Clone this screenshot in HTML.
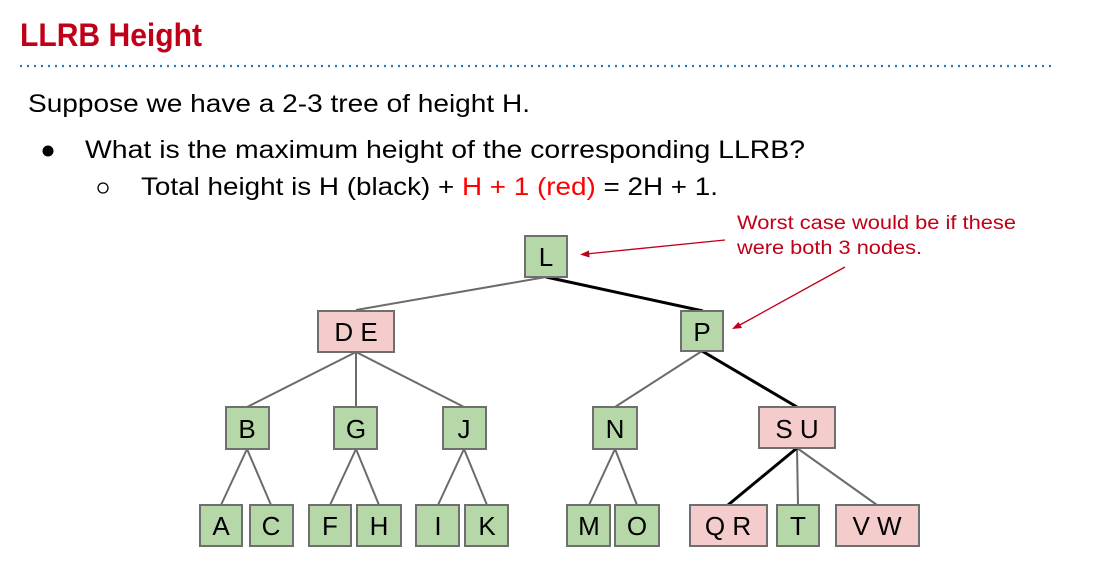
<!DOCTYPE html>
<html><head><meta charset="utf-8"><style>
html,body{margin:0;padding:0;background:#fff;}
svg{display:block;}
text{font-family:"Liberation Sans",Arial,sans-serif;}
</style></head><body>
<svg width="1095" height="580" viewBox="0 0 1095 580" xmlns="http://www.w3.org/2000/svg">
<text x="20" y="46" font-size="32" font-weight="bold" fill="#c00018" textLength="182" lengthAdjust="spacingAndGlyphs">LLRB Height</text>
<line x1="20" y1="66" x2="1052" y2="66" stroke="#2e75b6" stroke-width="2.2" stroke-dasharray="2 5"/>
<text x="28" y="112" font-size="25" fill="#000" textLength="502" lengthAdjust="spacingAndGlyphs">Suppose we have a 2-3 tree of height H.</text>
<circle cx="48" cy="151" r="5.5" fill="#000"/>
<text x="85" y="158" font-size="25" fill="#000" textLength="720" lengthAdjust="spacingAndGlyphs">What is the maximum height of the corresponding LLRB?</text>
<circle cx="103" cy="188" r="5" fill="none" stroke="#000" stroke-width="1.3"/>
<text x="141" y="195" font-size="25" fill="#000" textLength="577" lengthAdjust="spacingAndGlyphs">Total height is H (black) + <tspan fill="#ff0000">H + 1 (red)</tspan> = 2H + 1.</text>

<text x="737" y="229" font-size="19" fill="#c00018" textLength="279" lengthAdjust="spacingAndGlyphs">Worst case would be if these</text>
<text x="737" y="254" font-size="19" fill="#c00018" textLength="185" lengthAdjust="spacingAndGlyphs">were both 3 nodes.</text>
<g stroke="#c00018" stroke-width="1.3" fill="#c00018">
<line x1="725" y1="240" x2="586" y2="254"/>
<polygon points="580,254.5 589,250.5 589.5,257.5" stroke="none"/>
<line x1="845" y1="267" x2="738" y2="326"/>
<polygon points="732,329 738.5,322 742,328" stroke="none"/>
</g>

<g stroke="#6b6b6b" stroke-width="2" fill="none">
<line x1="546" y1="277" x2="356" y2="310"/>
<line x1="356" y1="352" x2="247" y2="407"/>
<line x1="356" y1="352" x2="356" y2="407"/>
<line x1="356" y1="352" x2="464" y2="407"/>
<line x1="247" y1="449" x2="221" y2="505"/>
<line x1="247" y1="449" x2="271" y2="505"/>
<line x1="356" y1="449" x2="330" y2="505"/>
<line x1="356" y1="449" x2="379" y2="505"/>
<line x1="464" y1="449" x2="438" y2="505"/>
<line x1="464" y1="449" x2="487" y2="505"/>
<line x1="702" y1="351" x2="615" y2="407"/>
<line x1="615" y1="449" x2="589" y2="505"/>
<line x1="615" y1="449" x2="637" y2="505"/>
<line x1="797" y1="448" x2="798" y2="505"/>
<line x1="797" y1="448" x2="877" y2="505"/>
</g>
<g stroke="#000" stroke-width="3" fill="none">
<line x1="546" y1="277" x2="703" y2="311"/>
<line x1="702" y1="351" x2="797" y2="407"/>
<line x1="797" y1="448" x2="728" y2="505"/>
</g>

<g stroke="#6f6f6f" stroke-width="2">
<rect x="525" y="236" width="42" height="41" fill="#b6d7a8"/>
<rect x="318" y="311" width="76" height="41" fill="#f4cccc"/>
<rect x="681" y="311" width="42" height="40" fill="#b6d7a8"/>
<rect x="226" y="407" width="43" height="42" fill="#b6d7a8"/>
<rect x="334" y="407" width="43" height="42" fill="#b6d7a8"/>
<rect x="443" y="407" width="43" height="42" fill="#b6d7a8"/>
<rect x="593" y="407" width="44" height="42" fill="#b6d7a8"/>
<rect x="759" y="407" width="76" height="41" fill="#f4cccc"/>
<rect x="200" y="505" width="42" height="41" fill="#b6d7a8"/>
<rect x="250" y="505" width="43" height="41" fill="#b6d7a8"/>
<rect x="309" y="505" width="42" height="41" fill="#b6d7a8"/>
<rect x="357" y="505" width="44" height="41" fill="#b6d7a8"/>
<rect x="416" y="505" width="43" height="41" fill="#b6d7a8"/>
<rect x="465" y="505" width="43" height="41" fill="#b6d7a8"/>
<rect x="567" y="505" width="43" height="41" fill="#b6d7a8"/>
<rect x="615" y="505" width="44" height="41" fill="#b6d7a8"/>
<rect x="690" y="505" width="77" height="41" fill="#f4cccc"/>
<rect x="777" y="505" width="42" height="41" fill="#b6d7a8"/>
<rect x="836" y="505" width="83" height="41" fill="#f4cccc"/>
</g>
<g font-size="26" fill="#000" text-anchor="middle">
<text x="546" y="266">L</text>
<text x="356" y="341">D E</text>
<text x="702" y="341">P</text>
<text x="247" y="438">B</text>
<text x="356" y="438">G</text>
<text x="464" y="438">J</text>
<text x="615" y="438">N</text>
<text x="797" y="438">S U</text>
<text x="221" y="535">A</text>
<text x="271" y="535">C</text>
<text x="330" y="535">F</text>
<text x="379" y="535">H</text>
<text x="438" y="535">I</text>
<text x="487" y="535">K</text>
<text x="589" y="535">M</text>
<text x="637" y="535">O</text>
<text x="728" y="535">Q R</text>
<text x="798" y="535">T</text>
<text x="877" y="535">V W</text>
</g>
</svg>
</body></html>
